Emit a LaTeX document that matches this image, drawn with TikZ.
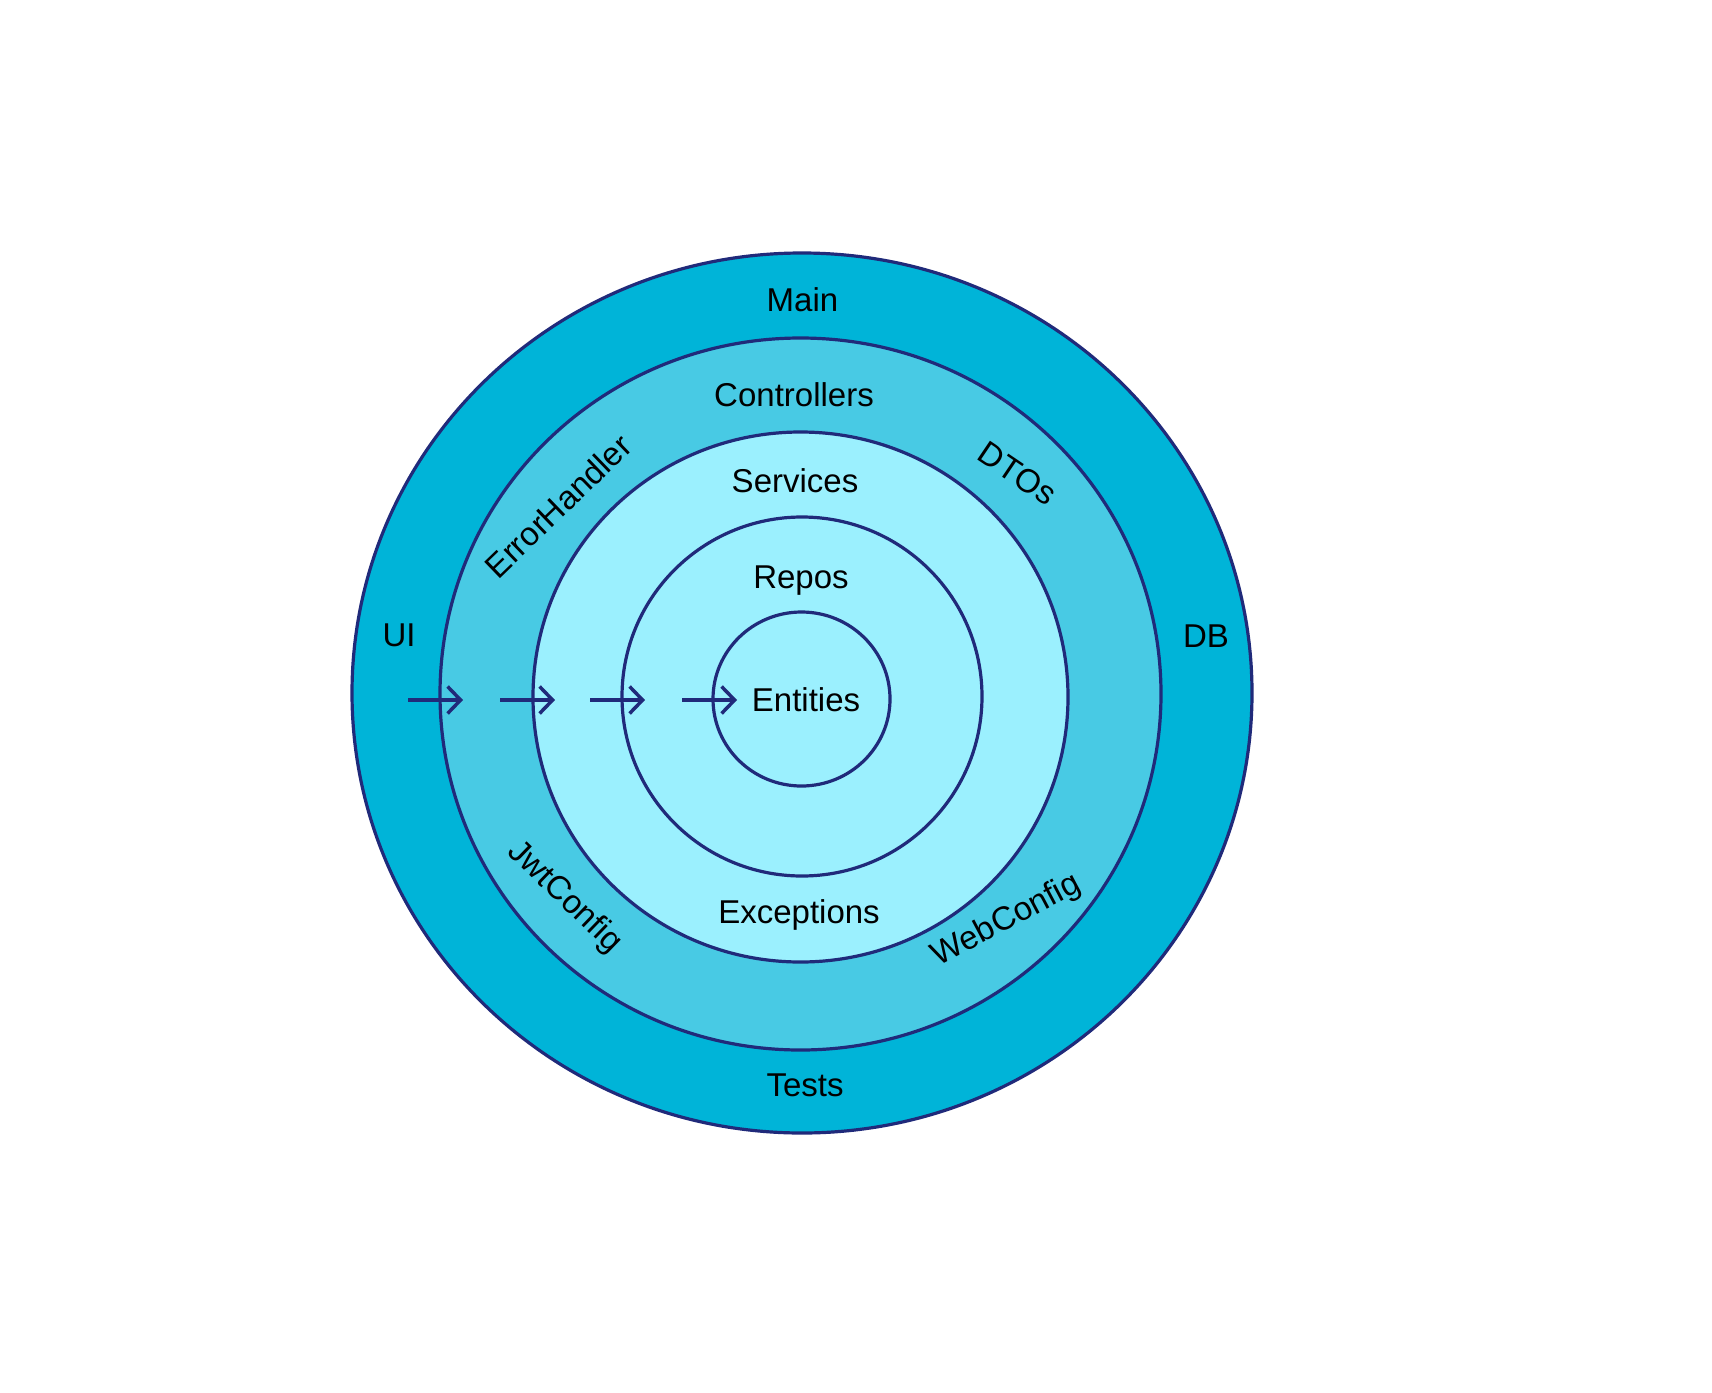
\documentclass[tikz,border=0pt]{standalone}
\usepackage{fontspec}
\setmainfont{Liberation Sans}
\usetikzlibrary{arrows.meta}
\definecolor{ringA}{RGB}{0,180,216}
\definecolor{ringB}{RGB}{72,202,228}
\definecolor{ringC}{RGB}{155,240,254}
\definecolor{edge}{RGB}{32,42,122}
\tikzset{
  ring/.style={draw=edge, line width=3.2pt},
  lbl/.style={inner sep=0pt, text height=23.5pt, text depth=0pt, font=\fontsize{33}{39}\selectfont, text=black},
  flow/.style={draw=edge, line width=3.5pt, -{Straight Barb[length=13pt,width=27pt,line width=3.5pt]}}
}
\begin{document}
\begin{tikzpicture}[x=1pt,y=-1pt]
\useasboundingbox (0,0) rectangle (1712,1392);
\fill[white] (0,0) rectangle (1712,1392);
% rings
\filldraw[ring, fill=ringA] (802,693) ellipse [x radius=450, y radius=440];
\filldraw[ring, fill=ringB] (800.5,694) ellipse [x radius=360.5, y radius=356];
\filldraw[ring, fill=ringC] (800.5,697) ellipse [x radius=267.5, y radius=265];
\draw[ring] (802,696.5) ellipse [x radius=180, y radius=179.5];
\draw[ring] (801.5,699) ellipse [x radius=88.5, y radius=87];
% arrows
\coordinate (a1s) at (408,700); \coordinate (a1e) at (463,700);
\coordinate (a2s) at (500,700); \coordinate (a2e) at (555,700);
\coordinate (a3s) at (590,700); \coordinate (a3e) at (645,700);
\coordinate (a4s) at (682,700); \coordinate (a4e) at (737,700);
\draw[flow] (a1s) -- (a1e);
\draw[flow] (a2s) -- (a2e);
\draw[flow] (a3s) -- (a3e);
\draw[flow] (a4s) -- (a4e);
% labels
\node[lbl] (main) at (802.5,300) {Main};
\node[lbl] (tests) at (805,1085) {Tests};
\node[lbl] (ui) at (399,635) {UI};
\node[lbl] (db) at (1206,635.5) {DB};
\node[lbl] (controllers) at (794,394.5) {Controllers};
\node[lbl] (services) at (795,481) {Services};
\node[lbl] (repos) at (801,577) {Repos};
\node[lbl] (entities) at (806,700) {Entities};
\node[lbl] (exceptions) at (799,911.5) {Exceptions};
\node[lbl, rotate=44] (errh) at (558,506) {ErrorHandler};
\node[lbl, rotate=-34] (dtos) at (1018,473) {DTOs};
\node[lbl, rotate=-44] (jwt) at (567,895) {JwtConfig};
\node[lbl, rotate=28] (web) at (1005,918) {WebConfig};
\end{tikzpicture}
\end{document}
